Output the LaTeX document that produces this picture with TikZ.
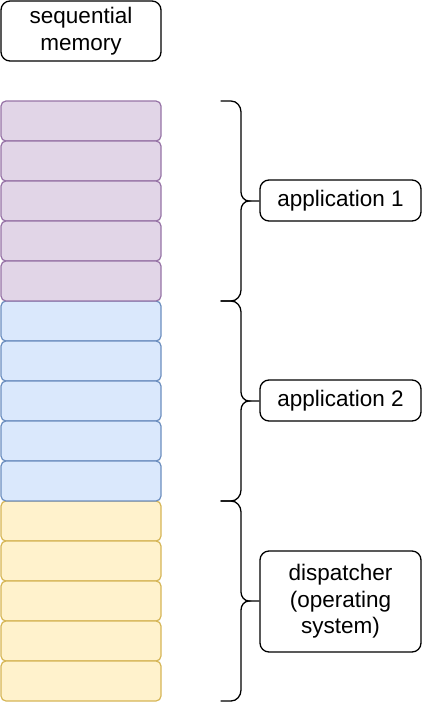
\documentclass[tikz,border=0pt]{standalone}
\usepackage{fontspec}
\setmainfont{Liberation Sans}
\definecolor{pfill}{HTML}{E1D5E7}\definecolor{pdraw}{HTML}{9673A6}
\definecolor{bfill}{HTML}{DAE8FC}\definecolor{bdraw}{HTML}{6C8EBF}
\definecolor{yfill}{HTML}{FFF2CC}\definecolor{ydraw}{HTML}{D6B656}
\begin{document}
\begin{tikzpicture}[x=1pt,y=-1pt,
  cell/.style={rounded corners=5pt,line width=1.2pt},
  labelbox/.style={draw,rounded corners=9pt,line width=1.3pt,align=center,inner sep=0pt,
     font=\fontsize{22.5}{26.5}\selectfont},
  bracepath/.style={line width=1.3pt,line cap=round}]
\useasboundingbox (0,0) rectangle (422,702);
\node[labelbox,minimum width=160pt,minimum height=60pt] (title) at (81,31) {sequential\\memory};
% memory cells
\foreach \i in {0,...,4}{
  \draw[cell,fill=pfill,draw=pdraw] (1,101+40*\i) rectangle (161,141+40*\i);
  \draw[cell,fill=bfill,draw=bdraw] (1,301+40*\i) rectangle (161,341+40*\i);
  \draw[cell,fill=yfill,draw=ydraw] (1,501+40*\i) rectangle (161,541+40*\i);
}
% labels
\node[labelbox,minimum width=161pt,minimum height=41pt] (app1) at (340.5,200.5) {application 1};
\node[labelbox,minimum width=161pt,minimum height=41pt] (app2) at (340.5,400.5) {application 2};
\node[labelbox,minimum width=161pt,minimum height=101pt] (disp) at (340.5,601.5) {dispatcher\\(operating\\system)};
% braces
\foreach \a/\m/\b/\n in {101/201/301/t1,301/401/501/t2,501/601/701/t3}{
  \draw[bracepath] (221,\a) -- (231,\a) to[out=0,in=90] (241,\a+11) -- (241,\m-9)
     to[out=-90,in=180] (249,\m) coordinate (\n) to[out=180,in=90] (241,\m+9) -- (241,\b-11)
     to[out=-90,in=0] (231,\b) -- (221,\b);
}
\draw[line width=1.3pt] (t1) -- (app1);
\draw[line width=1.3pt] (t2) -- (app2);
\draw[line width=1.3pt] (t3) -- (disp);
\end{tikzpicture}
\end{document}
